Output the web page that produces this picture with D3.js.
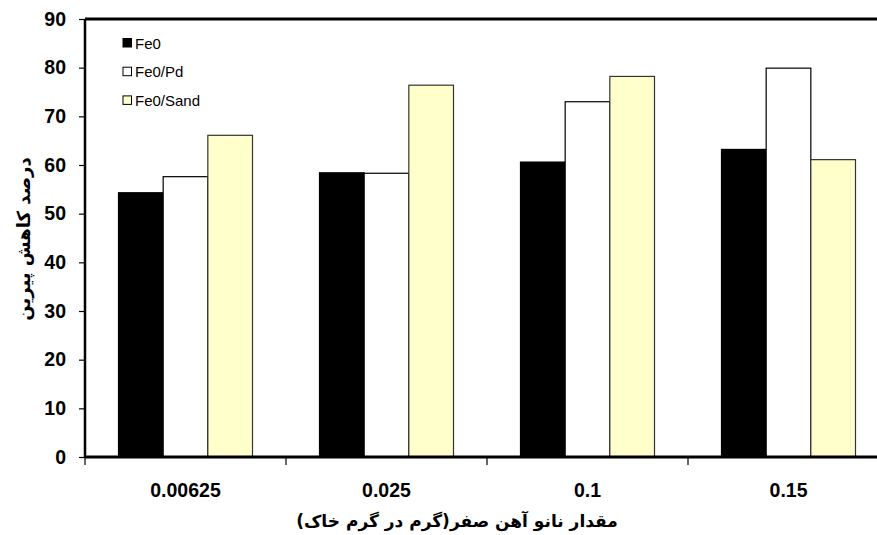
<!DOCTYPE html>
<html><head><meta charset="utf-8">
<script src="https://cdn.jsdelivr.net/npm/d3@7/dist/d3.min.js"></script>
<style>html,body{margin:0;padding:0;background:#fff}svg{display:block}</style>
</head><body>
<svg id="c" width="877" height="535"></svg>
<script>
const categories = ["0.00625", "0.025", "0.1", "0.15"];
const seriesNames = ["Fe0", "Fe0/Pd", "Fe0/Sand"];
const fe0 = [54.3, 58.4, 60.6, 63.2];
const fe0Pd = [57.6, 58.3, 73.0, 79.9];
const fe0Sand = [66.1, 76.4, 78.2, 61.1];
const yTicks = [0, 10, 20, 30, 40, 50, 60, 70, 80, 90];
const yTitle = "درصد کاهش پیرین";
const xTitle = "مقدار نانو آهن صفر(گرم در گرم خاک)";

const series = [fe0, fe0Pd, fe0Sand];
const fills = ["#000000", "#ffffff", "#ffffcc"];
const strokes = ["#000000", "#000000", "#333333"];

const svg = d3.select("#c");
const L = 85, R = 889, T = 19, B = 457;
const x = d3.scaleBand().domain(categories).range([L, R]).paddingInner(0).paddingOuter(0);
const inner = d3.scaleBand().domain(seriesNames).range([0, x.bandwidth()]).paddingOuter(0.75).paddingInner(0);
const y = d3.scaleLinear().domain([0, 90]).range([B, T]);

// bars
seriesNames.forEach((s, si) => {
  svg.append("g").selectAll("rect").data(categories).join("rect")
    .attr("x", c => x(c) + inner(s))
    .attr("y", (c, i) => y(series[si][i]))
    .attr("width", inner.bandwidth())
    .attr("height", (c, i) => y(0) - y(series[si][i]))
    .attr("fill", fills[si])
    .attr("stroke", strokes[si])
    .attr("stroke-width", 1.2);
});

// top border
svg.append("line").attr("x1", L).attr("x2", R).attr("y1", T).attr("y2", T)
  .attr("stroke", "#000").attr("stroke-width", 3);

// y axis
const yAxis = svg.append("g").attr("transform", `translate(${L},0)`)
  .call(d3.axisLeft(y).tickValues(yTicks).tickSize(6).tickPadding(13).tickFormat(d3.format("d")));
yAxis.select(".domain").attr("stroke-width", 2.5).attr("d", `M0,${T}V${B}`);
yAxis.selectAll(".tick line").attr("stroke-width", 1.2);
yAxis.selectAll("text").attr("font-family", "Liberation Sans, Arial, sans-serif")
  .attr("font-weight", "bold").attr("font-size", 19.5).attr("fill", "#000");

// x axis
const xAxis = svg.append("g").attr("transform", `translate(0,${B})`)
  .call(d3.axisBottom(x).tickSize(0).tickPadding(26));
xAxis.select(".domain").attr("stroke-width", 3).attr("d", `M${L},0H${R}`);
xAxis.selectAll("text").attr("font-family", "Liberation Sans, Arial, sans-serif")
  .attr("font-weight", "bold").attr("font-size", 19.5).attr("fill", "#000");
const bounds = categories.map(c => x(c)).concat([R]);
svg.append("g").selectAll("line").data(bounds).join("line")
  .attr("x1", d => d).attr("x2", d => d).attr("y1", B).attr("y2", B + 8)
  .attr("stroke", "#000").attr("stroke-width", 1.2);

// titles
svg.append("text").attr("x", 457).attr("y", 527).attr("text-anchor", "middle")
  .attr("direction", "rtl")
  .attr("font-family", "DejaVu Sans, sans-serif").attr("font-weight", "bold").attr("font-size", 17)
  .text(xTitle);
svg.append("text").attr("transform", `translate(30,239) rotate(-90)`)
  .attr("text-anchor", "middle").attr("direction", "rtl")
  .attr("font-family", "DejaVu Sans, sans-serif").attr("font-weight", "bold").attr("font-size", 18)
  .text(yTitle);

// legend
const leg = svg.append("g");
seriesNames.forEach((s, i) => {
  const cy = 43 + i * 28.7;
  leg.append("rect").attr("x", 123).attr("y", cy - 4.5).attr("width", 8.5).attr("height", 8.5)
    .attr("fill", fills[i]).attr("stroke", "#000").attr("stroke-width", 1);
  leg.append("text").attr("x", 135).attr("y", cy + 5.5)
    .attr("font-family", "Liberation Sans, Arial, sans-serif").attr("font-size", 15).text(s);
});
</script>
</body></html>
